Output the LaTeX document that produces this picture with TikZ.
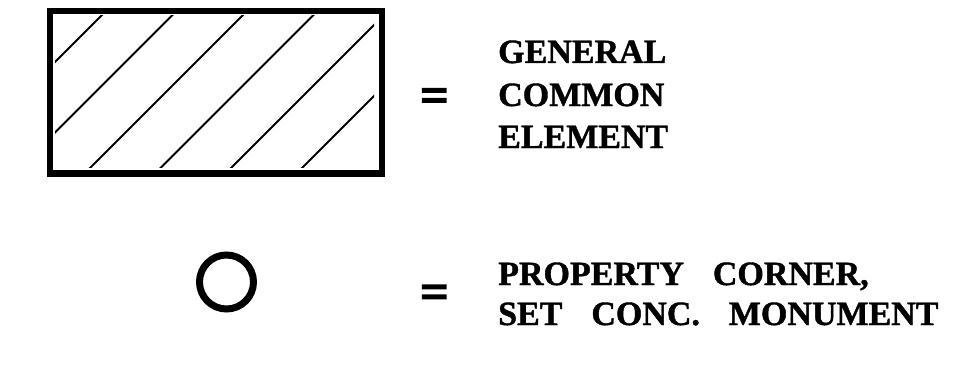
\documentclass[tikz,border=0pt]{standalone}
\usepackage{fontspec}
\setmainfont{Liberation Serif}
\newfontfamily\heavyfont[FakeBold=1.2]{Liberation Serif Bold}
\newfontfamily\eqfont[FakeBold=3]{Liberation Serif Bold}
\begin{document}
\begin{tikzpicture}[x=1pt,y=-1pt,
  label/.style={anchor=base west,inner sep=0pt,font=\fontsize{34}{34}\heavyfont},
  eqsign/.style={anchor=base,inner sep=0pt,font=\fontsize{50}{50}\eqfont},
  hatch/.style={line width=1.8pt},
  border/.style={draw,line width=6.5pt}]
\useasboundingbox (0,0) rectangle (955,369);
% general common element symbol
\node[border,rectangle,minimum width=332pt,minimum height=162.5pt,inner sep=0pt] (box) at (216,92.25) {};
\begin{scope}
\clip (55,16) rectangle (374,167.5);
\foreach \c in {117,187.5,258,328.5,399,470} {
  \draw[hatch] (\c-200,200) -- (\c+20,-20);
}
\end{scope}
\node[eqsign] (eq1) at (434.5,112) {=};
\node[label] (g1) at (498,63) {GENERAL};
\node[label] (g2) at (498,106) {COMMON};
\node[label] (g3) at (498,148) {ELEMENT};
% property corner symbol
\node[circle,draw,line width=7pt,minimum size=54pt,inner sep=0pt] (pc) at (226.5,282) {};
\node[eqsign] (eq2) at (434.5,308.5) {=};
\node[label] (p1) at (498,285) {PROPERTY\hspace{0.85em}CORNER,};
\node[label] (p2) at (498,325) {SET\hspace{0.85em}CONC.\hspace{0.85em}MONUMENT};
\end{tikzpicture}
\end{document}
